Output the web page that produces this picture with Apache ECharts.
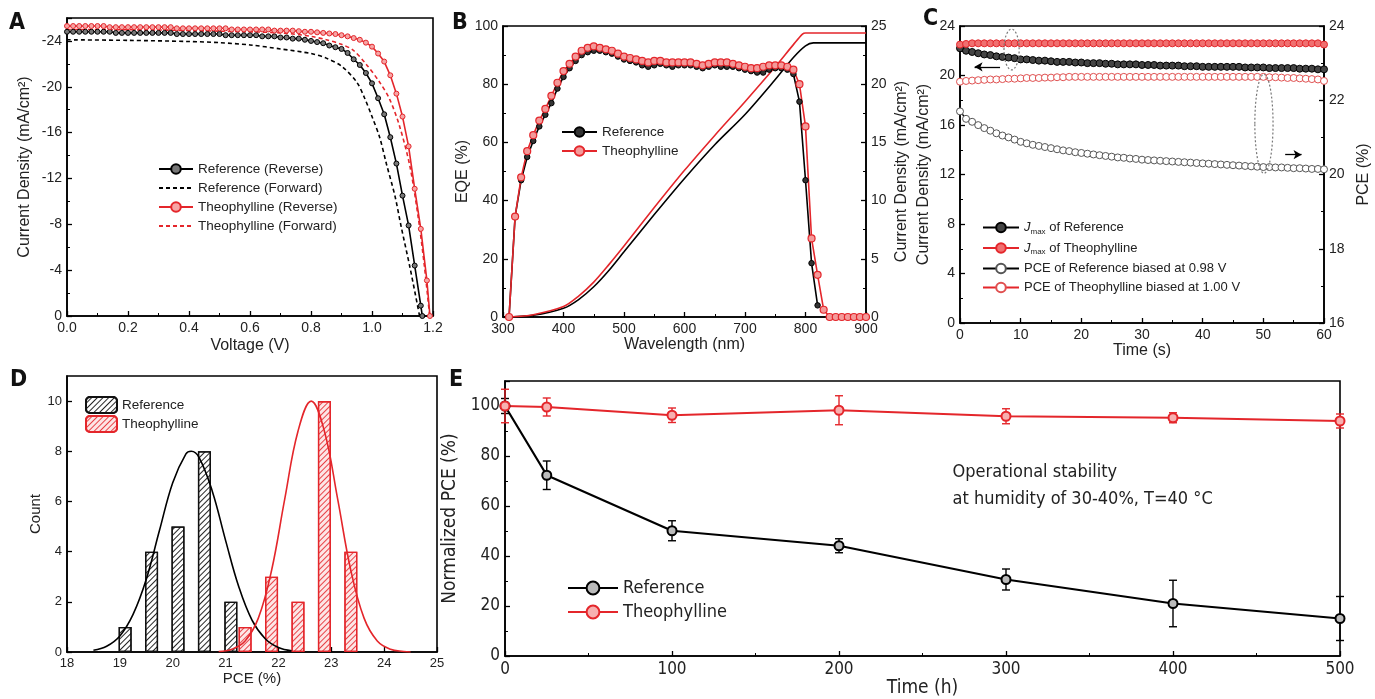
<!DOCTYPE html>
<html>
<head>
<meta charset="utf-8">
<script src="https://cdn.jsdelivr.net/npm/echarts@6/dist/echarts.min.js"></script>
<style>
html, body { margin: 0; padding: 0; background: #fff; }
#main { width: 1375px; height: 699px; }
</style>
</head>
<body>
<div id="main"></div>
<script>
// ---------- A: J-V curves ----------
const voltGrid = [0.00,0.02,0.04,0.06,0.08,0.10,0.12,0.14,0.16,0.18,0.20,0.22,0.24,0.26,0.28,0.30,0.32,0.34,0.36,0.38,
  0.40,0.42,0.44,0.46,0.48,0.50,0.52,0.54,0.56,0.58,0.60,0.62,0.64,0.66,0.68,0.70,0.72,0.74,0.76,0.78,
  0.80,0.82,0.84,0.86,0.88,0.90,0.92,0.94,0.96,0.98,1.00,1.02,1.04,1.06,1.08,1.10,1.12,1.14,1.16,1.18];
// magnitudes of the (negative) current density, mA/cm2
const refRevJ = [24.8,24.8,24.8,24.8,24.8,24.8,24.8,24.8,24.7,24.7,
  24.7,24.7,24.7,24.7,24.7,24.7,24.7,24.7,24.6,24.6,
  24.6,24.6,24.6,24.6,24.6,24.6,24.5,24.5,24.5,24.5,
  24.5,24.5,24.4,24.4,24.4,24.3,24.3,24.2,24.2,24.1,
  24.0,23.9,23.8,23.6,23.45,23.3,22.95,22.4,21.9,21.2,
  20.3,19.0,17.6,15.6,13.3,10.5,7.9,4.4,0.9];
const theoRevJ = [25.3,25.3,25.3,25.3,25.3,25.3,25.3,25.2,25.2,25.2,
  25.2,25.2,25.2,25.2,25.2,25.2,25.2,25.2,25.1,25.1,
  25.1,25.1,25.1,25.1,25.1,25.1,25.1,25.0,25.0,25.0,
  25.0,25.0,25.0,25.0,24.9,24.9,24.9,24.9,24.85,24.8,
  24.8,24.75,24.7,24.65,24.6,24.5,24.4,24.25,24.1,23.85,
  23.5,22.9,22.2,21.0,19.4,17.4,14.8,11.1,7.6,3.1];
const refFwdV = [0,0.2,0.4,0.5,0.6,0.7,0.8,0.85,0.9,0.95,0.976,1.0,1.025,1.047,1.075,1.096,1.124,1.156];
const refFwdJ = [24.1,24.05,23.95,23.85,23.65,23.3,22.9,22.5,21.8,20.4,19.0,17.4,15.6,13.3,10.5,7.75,4.3,0];
const theoFwdV = [0,0.3,0.5,0.7,0.8,0.85,0.9,0.938,0.98,1.025,1.058,1.09,1.124,1.151,1.172,1.189];
const theoFwdJ = [25.0,24.95,24.85,24.7,24.4,24.1,23.7,23.2,22.0,20.4,18.9,16.6,13.1,8.7,4.3,0];

// ---------- B: EQE ----------
const waveGrid = [310,320,330,340,350,360,370,380,390,400,410,420,430,440,450,460,470,480,490,500,
  510,520,530,540,550,560,570,580,590,600,610,620,630,640,650,660,670,680,690,700,
  710,720,730,740,750,760,770,780,790,800,810,820,830,840,850,860,870,880,890,900];
const eqeRef = [0,34.5,47,55,60.5,65.5,69.5,73.5,78.5,82.5,85.5,88,90,91,91.5,91.5,91,90.5,89.5,88.5,
  88,87.5,86.5,86,86.5,87,86.5,86,86.5,86.5,86.5,86,85.5,86,86.5,86,86,86,85.5,85,
  84.5,84,84,85,85.5,85.5,85,83.5,74,47,18.5,4];
const eqeTheo = [0,34.5,48,57,62.5,67.5,71.5,76,80.5,84.5,87,89.5,91.5,92.5,93,92.5,92,91.5,90.5,89.5,
  89,88.5,88,87.5,88,88,87.5,87.5,87.5,87.5,87.5,87,86.5,87,87.5,87.5,87.5,87,86.5,86,
  85.5,85.5,86,86.5,86.5,86.5,86,85,80,65.5,27,14.5,2.5,0,0,0,0,0,0,0];
const jscRefWave = [300,350,400,425,450,475,500,550,600,650,700,750,780,800,813,900];
const jscRef = [0,0.15,0.75,1.5,2.6,4.0,5.6,8.8,11.9,14.8,17.4,20.4,22.3,23.3,23.55,23.55];
const jscTheoWave = [312,350,400,425,450,475,500,550,600,650,700,750,780,795,800,900];
const jscTheo = [0,0.2,0.9,1.8,3.0,4.5,6.1,9.4,12.6,15.6,18.5,21.5,23.4,24.3,24.4,24.4];

// ---------- C: steady-state output ----------
const timeGrid = [0,1,2,3,4,5,6,7,8,9,10,11,12,13,14,15,16,17,18,19,20,21,22,23,24,25,26,27,28,29,30,
  31,32,33,34,35,36,37,38,39,40,41,42,43,44,45,46,47,48,49,50,51,52,53,54,55,56,57,58,59,60];
const jmaxRef = [22.2,22.0,21.9,21.8,21.7,21.65,21.55,21.5,21.45,21.4,
  21.3,21.3,21.25,21.2,21.2,21.15,21.1,21.1,21.1,21.05,
  21.05,21.0,21.0,21.0,20.95,20.95,20.9,20.9,20.9,20.9,
  20.85,20.85,20.85,20.8,20.8,20.8,20.8,20.75,20.75,20.75,
  20.7,20.7,20.7,20.7,20.7,20.7,20.7,20.65,20.65,20.65,
  20.65,20.6,20.6,20.6,20.6,20.6,20.55,20.55,20.55,20.5,20.5];
const jmaxTheo = [22.5,22.55,22.6,22.6,22.6,22.6,22.6,22.6,22.6,22.6,
  22.6,22.6,22.6,22.6,22.6,22.6,22.6,22.6,22.6,22.6,
  22.6,22.6,22.6,22.6,22.6,22.6,22.6,22.6,22.6,22.6,
  22.6,22.6,22.6,22.6,22.6,22.6,22.6,22.6,22.6,22.6,
  22.6,22.6,22.6,22.6,22.6,22.6,22.6,22.6,22.6,22.6,
  22.6,22.6,22.6,22.6,22.6,22.6,22.6,22.6,22.6,22.6,22.5];
const pceRef = [21.7,21.5,21.42,21.33,21.25,21.18,21.11,21.05,21.0,20.94,
  20.88,20.84,20.8,20.77,20.74,20.71,20.68,20.65,20.63,20.6,
  20.58,20.56,20.54,20.52,20.5,20.48,20.46,20.45,20.43,20.42,
  20.4,20.39,20.38,20.37,20.36,20.35,20.34,20.33,20.32,20.31,
  20.3,20.29,20.28,20.27,20.26,20.25,20.24,20.23,20.22,20.21,
  20.2,20.2,20.19,20.19,20.18,20.17,20.17,20.16,20.15,20.15,20.14];
const pceTheo = [22.5,22.52,22.53,22.54,22.55,22.56,22.56,22.57,22.58,22.58,
  22.59,22.6,22.6,22.6,22.61,22.61,22.62,22.62,22.63,22.63,
  22.63,22.63,22.63,22.63,22.63,22.63,22.63,22.63,22.63,22.63,
  22.63,22.63,22.63,22.63,22.63,22.63,22.63,22.63,22.63,22.63,
  22.63,22.63,22.63,22.63,22.63,22.63,22.63,22.63,22.63,22.63,
  22.63,22.62,22.62,22.61,22.6,22.6,22.59,22.58,22.57,22.56,22.52];

// ---------- D: PCE histogram ----------
const refBins = [19.1, 19.6, 20.1, 20.6, 21.1];
const refCounts = [1, 4, 5, 8, 2];
const theoBins = [21.37, 21.87, 22.37, 22.87, 23.37];
const theoCounts = [1, 3, 2, 10, 4];
const refFitX = [18.5,18.75,19.0,19.25,19.5,19.75,20.0,20.25,20.35,20.5,20.75,21.0,21.25,21.5,21.75,22.0,22.25];
const refFitY = [0.07,0.23,0.64,1.5,2.9,4.85,6.75,7.9,8.0,7.75,6.4,4.45,2.6,1.27,0.53,0.18,0.05];
const theoFitX = [20.87,21.12,21.37,21.62,21.87,22.12,22.37,22.62,22.87,23.12,23.37,23.62,23.87,24.12,24.37,24.5];
const theoFitY = [0.02,0.11,0.44,1.35,3.25,6.1,8.8,10,8.8,6.1,3.25,1.35,0.44,0.11,0.02,0];

// ---------- E: operational stability ----------
const eTime = [0, 25, 100, 200, 300, 400, 500];
const eRef = [100, 72.3, 50.1, 44.1, 30.6, 21.0, 15.0];
const eRefErr = [3, 5.7, 4, 2.8, 4.2, 9.3, 8.8];
const eTheo = [100, 99.6, 96.3, 98.3, 95.9, 95.3, 94.0];
const eTheoErr = [6.7, 3.6, 2.9, 5.8, 3, 2, 2.8];

const RED = '#e4262b';
const FONT = "'Liberation Sans', Arial, sans-serif";
const NARROW = "'Liberation Sans Narrow', 'DejaVu Sans Condensed', 'Liberation Sans', sans-serif";

const zip = (xs, ys) => ys.map((y, i) => [xs[i], y]);

function axisBase(extra, font, size) {
  const f = font || FONT, s = size || 14;
  return Object.assign({
    type: 'value',
    splitLine: { show: false },
    axisLine: { show: true, onZero: false, lineStyle: { color: '#000', width: 1.6 } },
    axisTick: { show: true, inside: true, length: 5, lineStyle: { color: '#000', width: 1.3 } },
    minorTick: { show: true, splitNumber: 2, length: 3, lineStyle: { color: '#000', width: 1 } },
    axisLabel: { color: '#222', fontSize: s, fontFamily: f, margin: 5 },
    nameLocation: 'middle',
    nameTextStyle: { color: '#222', fontSize: s + 2, fontFamily: f },
  }, extra);
}

const frame = { show: true, borderColor: '#000', borderWidth: 1.6, backgroundColor: 'transparent' };

function errRender(color) {
  return function (params, api) {
    const x = api.value(0);
    const top = api.coord([x, api.value(2)]);
    const bot = api.coord([x, api.value(1)]);
    const w = 4;
    const st = { stroke: color, lineWidth: 1.4 };
    return {
      type: 'group',
      children: [
        { type: 'line', shape: { x1: top[0], y1: top[1], x2: bot[0], y2: bot[1] }, style: st },
        { type: 'line', shape: { x1: top[0] - w, y1: top[1], x2: top[0] + w, y2: top[1] }, style: st },
        { type: 'line', shape: { x1: bot[0] - w, y1: bot[1], x2: bot[0] + w, y2: bot[1] }, style: st },
      ],
    };
  };
}

const hatch = (c) => ({ symbol: 'rect', symbolSize: 1, dashArrayX: [1, 0], dashArrayY: [1, 3], rotation: -Math.PI / 4, color: c });

const cLabels = {
  'jmaxRef#C': '{i|J}{s|max} of Reference',
  'jmaxTheo#C': '{i|J}{s|max} of Theophylline',
  'pceRef#C': 'PCE of Reference biased at 0.98 V',
  'pceTheo#C': 'PCE of Theophylline biased at 1.00 V',
};

const option = {
  animation: false,
  backgroundColor: '#fff',
  grid: [
    Object.assign({ left: 67, top: 18, width: 366, height: 298 }, frame),
    Object.assign({ left: 503, top: 26, width: 363, height: 291 }, frame),
    Object.assign({ left: 960, top: 26, width: 364, height: 297 }, frame),
    Object.assign({ left: 67, top: 376, width: 370, height: 276 }, frame),
    Object.assign({ left: 505, top: 381, width: 835, height: 275 }, frame),
  ],
  xAxis: [
    axisBase({ gridIndex: 0, min: 0, max: 1.2, interval: 0.2, name: 'Voltage (V)', nameGap: 22,
      axisLabel: { color: '#222', fontSize: 14, fontFamily: FONT, margin: 5, formatter: v => v.toFixed(1) } }),
    axisBase({ gridIndex: 1, min: 300, max: 900, interval: 100, name: 'Wavelength (nm)', nameGap: 20 }),
    axisBase({ gridIndex: 2, min: 0, max: 60, interval: 10, name: 'Time (s)', nameGap: 20 }),
    axisBase({ gridIndex: 3, min: 18, max: 25, interval: 1, name: 'PCE (%)', nameGap: 19,
      minorTick: { show: false } }, FONT, 13),
    axisBase({ gridIndex: 4, min: 0, max: 500, interval: 100, name: 'Time (h)', nameGap: 22 }, NARROW, 17),
  ],
  yAxis: [
    axisBase({ gridIndex: 0, min: 0, max: 26, interval: 4, name: 'Current Density (mA/cm²)', nameGap: 34, nameRotate: 90,
      axisLabel: { color: '#222', fontSize: 14, fontFamily: FONT, margin: 5, showMaxLabel: false,
        formatter: v => (v === 0 ? '0' : '-' + v) } }),
    axisBase({ gridIndex: 1, min: 0, max: 100, interval: 20, name: 'EQE (%)', nameGap: 32, nameRotate: 90 }),
    axisBase({ gridIndex: 1, min: 0, max: 25, interval: 5, position: 'right', name: 'Current Density (mA/cm²)', nameGap: 28, nameRotate: 90 }),
    axisBase({ gridIndex: 2, min: 0, max: 24, interval: 4, name: 'Current Density (mA/cm²)', nameGap: 28, nameRotate: 90 }),
    axisBase({ gridIndex: 2, min: 16, max: 24, interval: 2, position: 'right', name: 'PCE (%)', nameGap: 32, nameRotate: 90 }),
    axisBase({ gridIndex: 3, min: 0, max: 11, interval: 2, name: 'Count', nameGap: 20, nameRotate: 90,
      minorTick: { show: false },
      axisLabel: { color: '#222', fontSize: 13, fontFamily: FONT, margin: 5, showMaxLabel: false } }, FONT, 13),
    axisBase({ gridIndex: 4, min: 0, max: 110, interval: 20, name: 'Normalized PCE (%)', nameGap: 30, nameRotate: 90,
      axisLabel: { color: '#222', fontSize: 17, fontFamily: NARROW, margin: 5, showMaxLabel: false } }, NARROW, 17),
  ],
  legend: [
    { left: 153, top: 157, orient: 'vertical', itemWidth: 34, itemHeight: 12, itemGap: 5,
      textStyle: { fontSize: 13.5, fontFamily: FONT, color: '#222' },
      data: ['Reference (Reverse)', 'Reference (Forward)', 'Theophylline (Reverse)', 'Theophylline (Forward)'] },
    { left: 556, top: 120, orient: 'vertical', itemWidth: 35, itemHeight: 12, itemGap: 5,
      textStyle: { fontSize: 13.5, fontFamily: FONT, color: '#222' },
      formatter: n => n.split('#')[0], data: ['Reference#B', 'Theophylline#B'] },
    { left: 977, top: 216, orient: 'vertical', itemWidth: 36, itemHeight: 12, itemGap: 6,
      textStyle: { fontSize: 13, fontFamily: FONT, color: '#222',
        rich: { i: { fontStyle: 'italic', fontSize: 13, fontFamily: FONT, color: '#222' },
                s: { fontSize: 8, fontFamily: FONT, color: '#222', padding: [8, 0, 0, 0] } } },
      formatter: n => cLabels[n], data: ['jmaxRef#C', 'jmaxTheo#C', 'pceRef#C', 'pceTheo#C'] },
    { left: 80, top: 391, orient: 'vertical', itemWidth: 31, itemHeight: 16, itemGap: 1,
      textStyle: { fontSize: 13.5, fontFamily: FONT, color: '#222' },
      formatter: n => n.split('#')[0], data: ['Reference#D', 'Theophylline#D'] },
    { left: 562, top: 574, orient: 'vertical', itemWidth: 50, itemHeight: 16, itemGap: 6,
      textStyle: { fontSize: 18, fontFamily: NARROW, color: '#222' },
      formatter: n => n.split('#')[0], data: ['Reference#E', 'Theophylline#E'] },
  ],
  series: [
    // A
    { name: 'Reference (Reverse)', type: 'line', xAxisIndex: 0, yAxisIndex: 0,
      data: zip(voltGrid, refRevJ).concat([[1.165, 0]]),
      symbol: 'circle', symbolSize: 5, itemStyle: { color: '#777', borderColor: '#000', borderWidth: 1 },
      lineStyle: { color: '#000', width: 1.6 } },
    { name: 'Reference (Forward)', type: 'line', xAxisIndex: 0, yAxisIndex: 0, smooth: 0.3,
      data: zip(refFwdV, refFwdJ), symbol: 'none', itemStyle: { color: '#000', opacity: 0 },
      lineStyle: { color: '#000', width: 1.6, type: [4, 3] } },
    { name: 'Theophylline (Reverse)', type: 'line', xAxisIndex: 0, yAxisIndex: 0,
      data: zip(voltGrid, theoRevJ).concat([[1.19, 0]]),
      symbol: 'circle', symbolSize: 5, itemStyle: { color: '#f6a5a5', borderColor: RED, borderWidth: 1 },
      lineStyle: { color: RED, width: 1.6 } },
    { name: 'Theophylline (Forward)', type: 'line', xAxisIndex: 0, yAxisIndex: 0, smooth: 0.3,
      data: zip(theoFwdV, theoFwdJ), symbol: 'none', itemStyle: { color: RED, opacity: 0 },
      lineStyle: { color: RED, width: 1.6, type: [4, 3] } },
    // B
    { name: 'Reference#B', type: 'line', xAxisIndex: 1, yAxisIndex: 1, data: zip(waveGrid, eqeRef),
      symbol: 'circle', symbolSize: 5.5, itemStyle: { color: '#333', borderColor: '#000', borderWidth: 1 },
      lineStyle: { color: '#000', width: 1.6 } },
    { name: 'Theophylline#B', type: 'line', xAxisIndex: 1, yAxisIndex: 1, data: zip(waveGrid, eqeTheo),
      symbol: 'circle', symbolSize: 7, itemStyle: { color: '#f39a9a', borderColor: RED, borderWidth: 1.2 },
      lineStyle: { color: RED, width: 1.6 } },
    { name: 'jscRef', type: 'line', xAxisIndex: 1, yAxisIndex: 2, data: zip(jscRefWave, jscRef), smooth: 0.3,
      symbol: 'none', lineStyle: { color: '#000', width: 1.6 } },
    { name: 'jscTheo', type: 'line', xAxisIndex: 1, yAxisIndex: 2, data: zip(jscTheoWave, jscTheo), smooth: 0.3,
      symbol: 'none', lineStyle: { color: RED, width: 1.6 } },
    // C
    { name: 'jmaxRef#C', type: 'line', xAxisIndex: 2, yAxisIndex: 3, data: zip(timeGrid, jmaxRef),
      symbol: 'circle', symbolSize: 7, itemStyle: { color: '#444', borderColor: '#000', borderWidth: 1 },
      lineStyle: { color: '#000', width: 1.6 },
      markLine: { silent: true, symbol: ['none', 'arrow'], symbolSize: [7, 8], label: { show: false },
        lineStyle: { color: '#000', width: 1.3, type: 'solid' },
        data: [
          [{ coord: [6.6, 20.7] }, { coord: [2.4, 20.7] }],
          [{ coord: [53.6, 13.6] }, { coord: [56.3, 13.6] }],
        ] } },
    { name: 'jmaxTheo#C', type: 'line', xAxisIndex: 2, yAxisIndex: 3, data: zip(timeGrid, jmaxTheo),
      symbol: 'circle', symbolSize: 7, itemStyle: { color: '#f07070', borderColor: RED, borderWidth: 1 },
      lineStyle: { color: RED, width: 1.6 } },
    { name: 'pceRef#C', type: 'line', xAxisIndex: 2, yAxisIndex: 4, data: zip(timeGrid, pceRef),
      symbol: 'circle', symbolSize: 7, itemStyle: { color: '#fff', borderColor: '#555', borderWidth: 1 },
      lineStyle: { color: '#000', width: 1.4 } },
    { name: 'pceTheo#C', type: 'line', xAxisIndex: 2, yAxisIndex: 4, data: zip(timeGrid, pceTheo),
      symbol: 'circle', symbolSize: 7, itemStyle: { color: '#fff', borderColor: '#e05050', borderWidth: 1 },
      lineStyle: { color: RED, width: 1.4 } },
    // D
    { name: 'Reference#D', type: 'bar', xAxisIndex: 3, yAxisIndex: 5, data: zip(refBins, refCounts),
      barWidth: 13, barGap: '-100%',
      itemStyle: { color: '#fff', borderColor: '#111', borderWidth: 1.3, decal: hatch('rgba(0,0,0,0.85)') } },
    { name: 'Theophylline#D', type: 'bar', xAxisIndex: 3, yAxisIndex: 5, data: zip(theoBins, theoCounts),
      barWidth: 13, barGap: '-100%',
      itemStyle: { color: '#fde6e6', borderColor: RED, borderWidth: 1.3, decal: hatch('rgba(228,38,43,0.85)') } },
    { name: 'refFit', type: 'line', xAxisIndex: 3, yAxisIndex: 5, data: zip(refFitX, refFitY), smooth: 0.4,
      symbol: 'none', lineStyle: { color: '#000', width: 1.6 }, z: 3 },
    { name: 'theoFit', type: 'line', xAxisIndex: 3, yAxisIndex: 5, data: zip(theoFitX, theoFitY), smooth: 0.4,
      symbol: 'none', lineStyle: { color: RED, width: 1.6 }, z: 3 },
    // E
    { name: 'refErr', type: 'custom', xAxisIndex: 4, yAxisIndex: 6, renderItem: errRender('#000'),
      encode: { x: 0, y: [1, 2] }, data: eTime.map((t, i) => [t, eRef[i] - eRefErr[i], eRef[i] + eRefErr[i]]), z: 4 },
    { name: 'theoErr', type: 'custom', xAxisIndex: 4, yAxisIndex: 6, renderItem: errRender(RED),
      encode: { x: 0, y: [1, 2] }, data: eTime.map((t, i) => [t, eTheo[i] - eTheoErr[i], eTheo[i] + eTheoErr[i]]), z: 4 },
    { name: 'Reference#E', type: 'line', xAxisIndex: 4, yAxisIndex: 6, data: zip(eTime, eRef),
      symbol: 'circle', symbolSize: 9, itemStyle: { color: '#bbb', borderColor: '#000', borderWidth: 2 },
      lineStyle: { color: '#000', width: 2.2 }, z: 5 },
    { name: 'Theophylline#E', type: 'line', xAxisIndex: 4, yAxisIndex: 6, data: zip(eTime, eTheo),
      symbol: 'circle', symbolSize: 9, itemStyle: { color: '#f7b0b0', borderColor: RED, borderWidth: 2 },
      lineStyle: { color: RED, width: 2.2 }, z: 5 },
  ],
};

const chart = echarts.init(document.getElementById('main'));
chart.setOption(option);

// annotations that sit in data space
const pxC = (p) => chart.convertToPixel({ xAxisIndex: 2, yAxisIndex: 3 }, p);
const pxE = (p) => chart.convertToPixel({ xAxisIndex: 4, yAxisIndex: 6 }, p);
function ellipse(c, dx, dy) {
  const a = pxC(c), b = pxC([c[0] + dx, c[1] + dy]);
  return { type: 'ellipse', shape: { cx: a[0], cy: a[1], rx: Math.abs(b[0] - a[0]), ry: Math.abs(a[1] - b[1]) },
    style: { fill: 'none', stroke: '#777', lineWidth: 1.2, lineDash: [2, 2] }, z: 100 };
}
const letter = (t, x, y) => ({ type: 'text', left: x, top: y, z: 100,
  style: { text: t, fontSize: 23, fontWeight: 'bold', fontFamily: NARROW, fill: '#111' } });
const eTxt = pxE([268, 79]);

chart.setOption({
  graphic: [
    letter('A', 9, 12), letter('B', 452, 12), letter('C', 923, 8), letter('D', 10, 369), letter('E', 449, 369),
    ellipse([8.5, 22.1], 1.25, 1.65),
    ellipse([50.1, 16.1], 1.5, 4.0),
    { type: 'text', x: eTxt[0], y: eTxt[1], z: 100,
      style: { text: 'Operational stability\nat humidity of 30-40%, T=40 °C', fontSize: 18, lineHeight: 27,
        fontFamily: NARROW, fill: '#222' } },
  ],
});
</script>
</body>
</html>
